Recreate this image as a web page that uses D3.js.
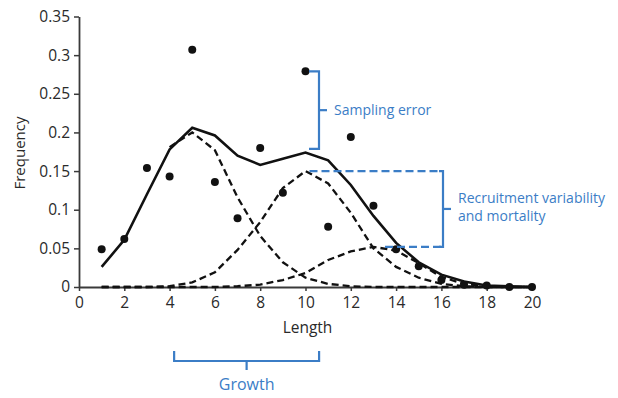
<!DOCTYPE html>
<html>
<head>
<meta charset="utf-8">
<script src="https://cdn.jsdelivr.net/npm/d3@7"></script>
<style>
  body { margin: 0; background: #fff; }
  text { font-family: "Open Sans", "DejaVu Sans", sans-serif; }
</style>
</head>
<body>
<script>
// length classes
var lengths = [1, 2, 3, 4, 5, 6, 7, 8, 9, 10, 11, 12, 13, 14, 15, 16, 17, 18, 19, 20];

// observed frequencies (dots)
var observed = [0.049, 0.062, 0.154, 0.143, 0.307, 0.136, 0.089, 0.180, 0.122, 0.279,
                0.078, 0.194, 0.105, 0.049, 0.027, 0.009, 0.003, 0.002, 0.000, 0.000];

// fitted total (solid line)
var fitted = [0.026, 0.061, 0.120, 0.178, 0.206, 0.196, 0.170, 0.158, 0.166, 0.174,
              0.164, 0.132, 0.092, 0.057, 0.032, 0.016, 0.007, 0.002, 0.001, 0.000];

// cohorts (dashed lines), null = not drawn
var cohort1 = [null, null, null, 0.181, 0.200, 0.177, 0.116, 0.066, 0.032, 0.012,
               0.004, 0.001, 0.000, 0.000, 0.000, 0.000, 0.000, 0.000, 0.000, 0.000];
var cohort2 = [0.000, 0.000, 0.000, 0.001, 0.006, 0.019, 0.048, 0.084, 0.128, 0.150,
               0.134, 0.096, 0.050, 0.026, 0.012, 0.004, 0.001, 0.000, 0.000, 0.000];
var cohort3 = [0.000, 0.000, 0.000, 0.000, 0.000, 0.000, 0.001, 0.003, 0.009, 0.018,
               0.035, 0.046, 0.052, 0.047, 0.031, 0.013, 0.004, 0.001, 0.000, 0.000];

var xTicks = [0, 2, 4, 6, 8, 10, 12, 14, 16, 18, 20];
var yTicks = [0, 0.05, 0.1, 0.15, 0.2, 0.25, 0.3, 0.35];
var yTickLabels = ["0", "0.05", "0.1", "0.15", "0.2", "0.25", "0.3", "0.35"];

var svgWidth = 618;
var svgHeight = 398;
var blue = "#3b7dc6";

var svg = d3.select("body")
    .append("svg")
    .attr("width", svgWidth)
    .attr("height", svgHeight);

var x = d3.scaleLinear().domain([0, 20]).range([79, 532]);
var y = d3.scaleLinear().domain([0, 0.35]).range([287, 16.5]);

// axes
var leftAxis = d3.axisLeft(y)
    .tickValues(yTicks)
    .tickFormat((d, i) => yTickLabels[i])
    .tickSize(5)
    .tickSizeOuter(0)
    .tickPadding(4);

var bottomAxis = d3.axisBottom(x)
    .tickValues(xTicks)
    .tickSize(4)
    .tickSizeOuter(0)
    .tickPadding(6);

var yAxisGroup = svg.append("g")
    .attr("transform", `translate(${x(0)},0)`)
    .call(leftAxis);

var xAxisGroup = svg.append("g")
    .attr("transform", `translate(0,${y(0)})`)
    .call(bottomAxis);

[yAxisGroup, xAxisGroup].forEach(g => {
    g.select(".domain").attr("stroke", "#3a3a3a").attr("stroke-width", 1.8);
    g.selectAll(".tick line").attr("stroke", "#3a3a3a").attr("stroke-width", 1.5);
    g.selectAll(".tick text")
        .attr("fill", "#2a2a2a")
        .style("font-size", "15.5px")
        .style("font-family", "'Open Sans', 'DejaVu Sans', sans-serif");
});

// axis titles
svg.append("text")
    .attr("x", x(10) + 2)
    .attr("y", 333)
    .attr("text-anchor", "middle")
    .attr("fill", "#2a2a2a")
    .style("font-size", "15.5px")
    .text("Length");

svg.append("text")
    .attr("transform", `translate(25,153) rotate(-90)`)
    .attr("text-anchor", "middle")
    .attr("fill", "#2a2a2a")
    .style("font-size", "15px")
    .text("Frequency");

// lines
function series(values) {
    return lengths.map((l, i) => ({ l: l, v: values[i] }));
}

var line = d3.line()
    .defined(d => d.v !== null)
    .x(d => x(d.l))
    .y(d => y(d.v));

[cohort3, cohort2, cohort1].forEach(c => {
    svg.append("path")
        .datum(series(c))
        .attr("d", line)
        .attr("fill", "none")
        .attr("stroke", "#111")
        .attr("stroke-width", 2.3)
        .attr("stroke-dasharray", "7,4");
});

svg.append("path")
    .datum(series(fitted))
    .attr("d", line)
    .attr("fill", "none")
    .attr("stroke", "#111")
    .attr("stroke-width", 2.6);

svg.selectAll(".dot")
    .data(series(observed))
    .enter()
    .append("circle")
    .attr("class", "dot")
    .attr("cx", d => x(d.l))
    .attr("cy", d => y(d.v))
    .attr("r", 4)
    .attr("fill", "#111");

// annotations
var notes = svg.append("g")
    .attr("fill", "none")
    .attr("stroke", blue)
    .attr("stroke-width", 2.2);

// sampling error bracket
var sx = 319;
var sTop = y(observed[9]);
var sBot = y(0.1786);
notes.append("path")
    .attr("d", `M${sx - 10},${sTop} H${sx} V${sBot} H${sx - 10}`);
notes.append("path")
    .attr("d", `M${sx},${(sTop + sBot) / 2} H${sx + 8}`);

svg.append("text")
    .attr("x", sx + 15)
    .attr("y", (sTop + sBot) / 2 + 5)
    .attr("fill", blue)
    .style("font-size", "14px")
    .text("Sampling error");

// recruitment bracket
var rx = 443;
var rTop = y(d3.max(cohort2));
var rBot = y(d3.max(cohort3));
notes.append("path")
    .attr("d", `M${x(10) + 4},${rTop} H${rx - 2}`)
    .attr("stroke-dasharray", "8,4");
notes.append("path")
    .attr("d", `M${385},${rBot} H${rx - 2}`)
    .attr("stroke-dasharray", "8,4");
notes.append("path")
    .attr("d", `M${rx - 4},${rTop} H${rx} V${rBot} H${rx - 4}`);
notes.append("path")
    .attr("d", `M${rx},${(rTop + rBot) / 2} H${rx + 8}`);

svg.append("text")
    .attr("x", rx + 15)
    .attr("y", 203)
    .attr("fill", blue)
    .style("font-size", "14px")
    .text("Recruitment variability");
svg.append("text")
    .attr("x", rx + 15)
    .attr("y", 221)
    .attr("fill", blue)
    .style("font-size", "14px")
    .text("and mortality");

// growth bracket
var gL = x(4.2);
var gR = x(10.6);
var gy = 361;
notes.append("path")
    .attr("d", `M${gL},${gy - 10} V${gy} H${gR} V${gy - 10}`);
notes.append("path")
    .attr("d", `M${(gL + gR) / 2},${gy} V${gy + 9}`);

svg.append("text")
    .attr("x", (gL + gR) / 2)
    .attr("y", 390)
    .attr("text-anchor", "middle")
    .attr("fill", blue)
    .style("font-size", "16px")
    .text("Growth");
</script>
</body>
</html>
